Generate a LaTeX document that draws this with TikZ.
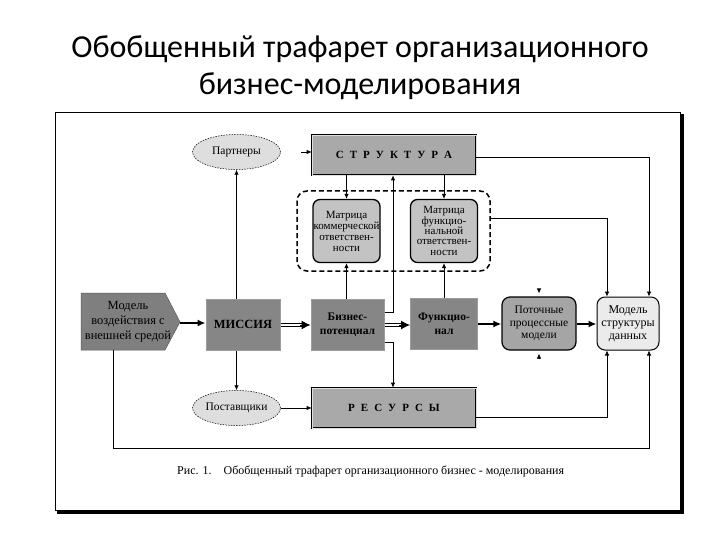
\documentclass[tikz,border=0pt]{standalone}
\usepackage{fontspec}
\setmainfont{Liberation Serif}
\newfontfamily\titlefont{Carlito}
\usetikzlibrary{arrows.meta,shapes.geometric,calc}
\definecolor{bigfill}{HTML}{A9A9A9}
\definecolor{matfill}{HTML}{C3C3C3}
\definecolor{darkfill}{HTML}{868686}
\definecolor{darkedge}{HTML}{9C9C9C}
\definecolor{envfill}{HTML}{7F7F7F}
\definecolor{flowfill}{HTML}{A5A5A5}
\definecolor{datafill}{HTML}{EBEBEB}
\definecolor{ellfill}{HTML}{DEDEDE}
\begin{document}
\begin{tikzpicture}[x=1pt,y=-1pt,
  txt/.style={align=center, inner sep=0pt, font=\fontsize{11}{11}\selectfont},
  bigbox/.style={draw=black, line width=0.7pt, double=white!75!gray, double distance=0.8pt,
    fill=bigfill, minimum width=164pt, minimum height=40pt, inner sep=0pt,
    font=\bfseries\fontsize{11}{12}\selectfont},
  matbox/.style={txt, draw=black, line width=1.3pt, rounded corners=7pt, fill=matfill,
    minimum width=67pt, minimum height=63pt},
  darkbox/.style={txt, draw=darkedge, line width=1pt, fill=darkfill, minimum height=51pt,
    font=\bfseries\fontsize{11.5}{13.5}\selectfont},
  roundbox/.style={txt, draw=black, line width=1.2pt, rounded corners=8pt, minimum height=53pt,
    font=\fontsize{11.5}{12.8}\selectfont},
  ell/.style={ellipse, draw=black, line width=0.5pt, dash pattern=on 1.5pt off 1.2pt, fill=ellfill,
    minimum width=88pt, minimum height=35pt, inner sep=0pt, font=\fontsize{11.5}{12}\selectfont},
  conn/.style={line width=0.7pt, -{Latex[length=5pt,width=4.5pt]}},
  thickarr/.style={line width=1.8pt, -{Latex[length=8pt,width=7pt]}},
  dbl/.style={draw=black, line width=1.2pt, double=white, double distance=1.8pt},
  headonly/.style={line width=1pt, -{Latex[length=9pt,width=9pt]}}
]
\useasboundingbox (0,0) rectangle (720,540);
\fill[white] (0,0) rectangle (720,540);

% title
\node[anchor=base, inner sep=0pt, font=\titlefont\fontsize{32}{37}\selectfont] (t1) at (360,58) {Обобщенный трафарет организационного};
\node[anchor=base, inner sep=0pt, font=\titlefont\fontsize{32}{37}\selectfont] (t2) at (360,95) {бизнес-моделирования};

% frame
\draw[line width=0.6pt] (55,112) rectangle (680,510);
\draw[line width=4pt] (57,512) -- (681.5,512) -- (681.5,114);

% nodes
\node[ell] (pa) at (236.5,152) {Партнеры};
\node[bigbox] (st) at (394,155) {{\spaceskip=6pt С Т Р У К Т У Р А}};
\draw[line width=1.5pt, dash pattern=on 5pt off 3pt, rounded corners=10pt] (297,191) rectangle (490,271);
\coordinate (grpE) at (490,218);
\node[matbox] (mk) at (346.5,231) {Матрица\\коммерческой\\ответствен-\\ности};
\node[matbox, font=\fontsize{11}{10.3}\selectfont] (mf) at (444,231) {Матрица\\функцио-\\нальной\\ответствен-\\ности};

\fill[envfill] (81,293) -- (165,293) -- (180,322) -- (165,350) -- (81,350) -- cycle;
\draw[gray!70!black, line width=0.5pt] (81,293) -- (165,293) -- (180,322) -- (165,350) -- (81,350) -- cycle;
\node[txt, font=\fontsize{12.5}{15}\selectfont] (mv) at (128,322) {Модель\\воздействия с\\внешней средой};
\coordinate (mvtip) at (180,323);
\coordinate (mvbot) at (113,350);

\node[darkbox, minimum width=74pt, font=\bfseries\fontsize{12.5}{13}\selectfont] (mi) at (243,324.5) {МИССИЯ};
\node[darkbox, minimum width=73pt] (bp) at (347.5,324.5) {Бизнес-\\потенциал};
\node[darkbox, minimum width=67pt] (fu) at (444,324) {Функцио-\\нал};
\node[roundbox, fill=flowfill, minimum width=74pt] (pm) at (539,323.5) {Поточные\\процессные\\модели};
\node[roundbox, fill=datafill, minimum width=62pt, line width=1pt, font=\fontsize{12}{13}\selectfont] (md) at (628,323.5) {Модель\\структуры\\данных};

\node[ell] (po) at (236.5,408) {Поставщики};
\node[bigbox] (re) at (394,408) {{\spaceskip=6pt Р Е С У Р С Ы}};

% caption
\node[anchor=base west, inner sep=0pt, font=\fontsize{12}{13}\selectfont] (cap) at (177,474) {Рис. 1.\hspace{12pt}Обобщенный трафарет организационного бизнес - моделирования};

% connectors: main chain
\draw[thickarr] (mvtip) -- (mvtip -| mi.west);
\draw[dbl] (mi.east |- 0,325) -- (303,325);
\draw[headonly] (300,325) -- (bp.west |- 0,325);
\draw[dbl] (bp.east |- 0,325) -- (402,325);
\draw[headonly] (399,325) -- (fu.west |- 0,325);
\draw[thickarr] (fu.east |- 0,324) -- (pm.west |- 0,324);
\draw[thickarr] (pm.east |- 0,324) -- (md.west |- 0,324);

% mission to partners / suppliers
\draw[conn] (mi.north -| pa.south) -- (pa.south);
\draw[conn] (mi.south -| po.north) -- (po.north);
\draw[conn] (po.east) -- (po.east -| re.west);
\coordinate (pastub) at (301,152);
\draw[conn] (pastub) -- (pastub -| st.west);

% structure to matrices, business/functional to matrices
\draw[conn] (st.south -| mk.north) -- (mk.north);
\draw[conn] (st.south -| mf.north) -- (mf.north);
\draw[conn] (bp.north -| mk.south) -- (mk.south);
\draw[conn] (fu.north -| mf.south) -- (mf.south);

% business potential up to structure, down to resources
\coordinate (bpU) at (393,312);
\coordinate (bpD) at (393,342);
\draw[conn] (bpU -| bp.east) -- (bpU) -- (bpU |- st.south);
\draw[conn] (bpD -| bp.east) -- (bpD) -- (bpD |- re.north);

% right side links to data model
\coordinate (xR) at (649,0);
\coordinate (xL) at (607,0);
\draw[conn] (st.east |- 0,157) -- (xR |- 0,157) -- (xR |- md.north);
\draw[conn] (grpE) -- (xL |- grpE) -- (xL |- md.north);
\draw[conn] (re.east |- 0,417) -- (xL |- 0,417) -- (xL |- md.south);
\draw[conn] (mvbot) -- (113,448) -- (xR |- 0,448) -- (xR |- md.south);

% stubs at flow models
\coordinate (pmT) at (539,289);
\coordinate (pmB) at (539,358);
\draw[conn] (pmT) -- ([yshift=3pt]pm.north);
\draw[conn] (pmB) -- ([yshift=-3pt]pm.south);
\end{tikzpicture}
\end{document}
